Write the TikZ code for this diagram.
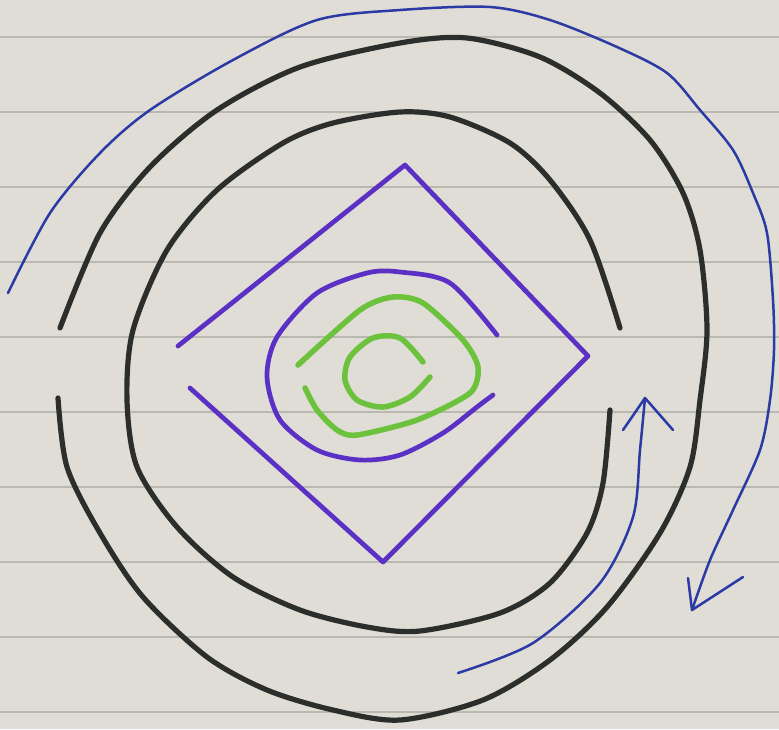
\documentclass[tikz,border=0pt]{standalone}
\definecolor{paper}{HTML}{DFDDD5}
\definecolor{rule}{HTML}{BAB9B1}
\definecolor{ink}{HTML}{2B2E2B}
\definecolor{violet}{HTML}{5B30C4}
\definecolor{leaf}{HTML}{6CC23C}
\definecolor{pen}{HTML}{2B3AA5}
\usepackage{tikz}

\begin{document}
\begin{tikzpicture}[
        x=0.1mm, y=-0.1mm,
        line cap=round, line join=round,
        ruled/.style = {rule, line width=0.13mm},
        ring/.style = {ink, line width=0.52mm},
        frame/.style = {violet, line width=0.47mm},
        coil/.style = {leaf, line width=0.55mm},
        flow/.style = {pen, line width=0.25mm}
    ]
    \fill[paper] (0,0) rectangle (779,729);
    \useasboundingbox (0,0) rectangle (779,729);
    \foreach \y in {37,112,...,712}
        \draw[ruled] (0,\y) -- (779,\y);

    \coordinate (outerTop) at (60,328);
    \coordinate (outerEnd) at (58,398);
    \coordinate (innerTop) at (620,328);
    \coordinate (innerEnd) at (610,410);

    \draw[ring] plot[smooth] coordinates {(outerTop) (100,233) (150,167) (217,110) (300,67)
        (400,43) (467,38) (540,57) (600,93) (650,140) (683,193) (700,250) (707,330) (700,400)
        (690,467) (660,533) (607,607) (550,660) (483,700) (400,720) (333,710) (267,690)
        (207,657) (143,597) (100,533) (67,467) (outerEnd)};
    \draw[ring] plot[smooth] coordinates {(innerTop) (590,240) (550,180) (510,143) (450,117)
        (400,112) (333,123) (283,143) (217,190) (167,250) (133,330) (127,400) (137,467)
        (177,527) (233,577) (300,610) (367,627) (420,631) (500,613) (550,583)
        (587,533) (603,483) (innerEnd)};

    \coordinate (d1) at (178,346);
    \coordinate (d2) at (405,165);
    \coordinate (d3) at (588,356);
    \coordinate (d4) at (383,562);
    \coordinate (d5) at (190,388);
    \draw[frame] (d1) -- (d2) -- (d3) -- (d4) -- (d5);
    \draw[frame] plot[smooth] coordinates {(497,335) (450,283) (400,272) (367,273) (317,293)
        (277,337) (267,377) (280,420) (317,450) (360,460) (400,455) (443,433) (477,407) (493,395)};

    \draw[coil] plot[smooth, tension=0.45] coordinates {(298,365) (360,310) (393,297) (423,303)
        (463,340) (478,367) (470,393) (417,420) (357,435) (337,430) (317,410) (305,388)};
    \draw[coil] plot[smooth] coordinates {(423,362) (400,338) (373,338) (350,357) (345,380)
        (357,400) (383,407) (410,397) (430,377)};

    \coordinate (skyStart) at (8,293);
    \coordinate (skyTip) at (692,610);
    \coordinate (skyBarbA) at (688,578);
    \coordinate (skyBarbB) at (743,577);
    \coordinate (lowStart) at (458,673);
    \coordinate (lowTip) at (645,398);
    \coordinate (lowBarbA) at (623,430);
    \coordinate (lowBarbB) at (673,430);
    \draw[flow] plot[smooth] coordinates {(skyStart) (50,213) (100,153) (150,110) (233,60)
        (317,20) (400,10) (490,7) (550,20) (617,47) (667,73) (700,110) (733,150) (753,193)
        (767,233) (773,300) (774,350) (770,400) (760,450) (733,510) (710,560) (skyTip)};
    \draw[flow] (skyBarbA) -- (skyTip) -- (skyBarbB);
    \draw[flow] plot[smooth] coordinates {(lowStart) (533,643) (600,583) (633,517) (640,450) (lowTip)};
    \draw[flow] (lowBarbA) -- (lowTip) -- (lowBarbB);
\end{tikzpicture}
\end{document}
